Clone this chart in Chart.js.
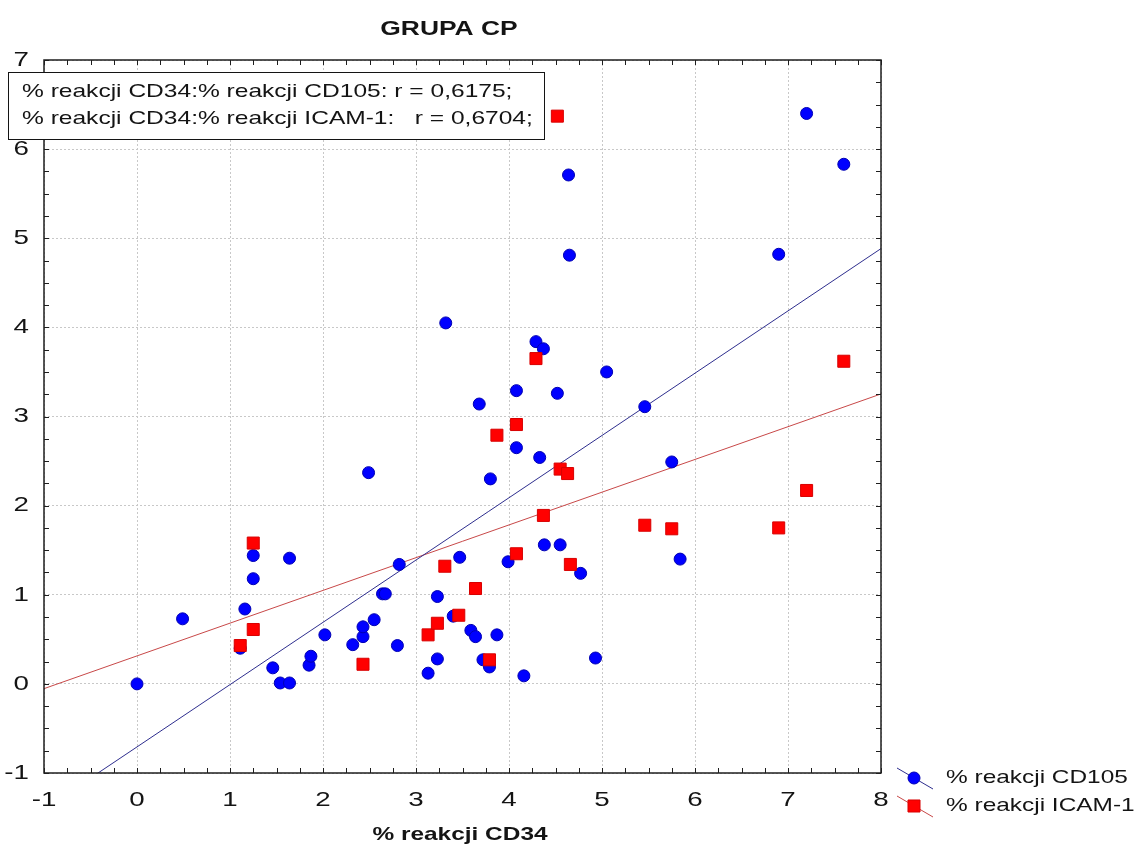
<!DOCTYPE html>
<html>
<head>
<meta charset="utf-8">
<title>GRUPA CP</title>
<script src="https://cdn.jsdelivr.net/npm/chart.js@4.4.1/dist/chart.umd.min.js"></script>
<style>
  html, body { margin: 0; padding: 0; background: #fff; }
  #chart { display: block; }
</style>
</head>
<body>
<canvas id="chart" width="1135" height="850"></canvas>
<script>
// texts
const chartTitle = 'GRUPA CP';
const xAxisTitle = '% reakcji CD34';
const seriesNames = ['% reakcji CD105', '% reakcji ICAM-1'];
const corrLines = [
    '% reakcji CD34:% reakcji CD105: r = 0,6175;',
    '% reakcji CD34:% reakcji ICAM-1:   r = 0,6704;'
];

const xTickLabels = ['-1', '0', '1', '2', '3', '4', '5', '6', '7', '8'];
const yTickLabels = ['-1', '0', '1', '2', '3', '4', '5', '6', '7'];

// CD34 vs CD105 (blue circles)
const cd34ForCd105 = [0, 0.49, 1.11, 1.16, 1.25, 1.25, 1.46, 1.54, 1.64, 1.64, 1.85, 1.87, 2.02, 2.32,
    2.43, 2.43, 2.49, 2.55, 2.64, 2.67, 2.80, 2.82, 3.13, 3.23, 3.23, 3.32, 3.40, 3.47, 3.59, 3.64,
    3.68, 3.72, 3.79, 3.80, 3.87, 3.99, 4.08, 4.08, 4.16, 4.29, 4.33, 4.37, 4.38, 4.52, 4.55, 4.64,
    4.65, 4.77, 4.93, 5.05, 5.46, 5.75, 5.84, 6.90, 7.20, 7.60];
const cd105 = [0.00, 0.73, 0.40, 0.84, 1.44, 1.18, 0.18, 0.01, 0.01, 1.41, 0.21, 0.31, 0.55, 0.44,
    0.53, 0.64, 2.37, 0.72, 1.01, 1.01, 0.43, 1.34, 0.12, 0.28, 0.98, 4.05, 0.76, 1.42, 0.60, 0.53,
    3.14, 0.27, 0.19, 2.30, 0.55, 1.37, 3.29, 2.65, 0.09, 3.84, 2.54, 3.76, 1.56, 3.26, 1.56, 5.71,
    4.81, 1.24, 0.29, 3.50, 3.11, 2.49, 1.40, 4.82, 6.40, 5.83];

// CD34 vs ICAM-1 (red squares)
const cd34ForIcam = [1.11, 1.25, 1.25, 2.43, 3.13, 3.23, 3.31, 3.46, 3.64, 3.79, 3.87, 4.08, 4.08,
    4.29, 4.37, 4.52, 4.55, 4.63, 4.66, 5.46, 5.75, 6.90, 7.20, 7.60];
const icam1 = [0.43, 1.58, 0.61, 0.22, 0.55, 0.68, 1.32, 0.77, 1.07, 0.27, 2.79, 2.91, 1.46,
    3.65, 1.89, 6.37, 2.41, 2.36, 1.34, 1.78, 1.74, 1.75, 2.17, 3.62];

const FONT = '"Liberation Sans", Arial, sans-serif';
const SX = 1.32; // the original lettering is drawn wide

function toPoints(xs, ys) {
    return xs.map((x, i) => ({ x: x, y: ys[i] }));
}

// least squares line over the whole x range
function fitLine(xs, ys) {
    const n = xs.length;
    const mx = xs.reduce((s, v) => s + v, 0) / n;
    const my = ys.reduce((s, v) => s + v, 0) / n;
    let sxy = 0, sxx = 0;
    for (let i = 0; i < n; i++) {
        sxy += (xs[i] - mx) * (ys[i] - my);
        sxx += (xs[i] - mx) * (xs[i] - mx);
    }
    const b = sxy / sxx;
    const a = my - b * mx;
    const x0 = Number(xTickLabels[0]);
    const x1 = Number(xTickLabels[xTickLabels.length - 1]);
    return [{ x: x0, y: a + b * x0 }, { x: x1, y: a + b * x1 }];
}

function wideText(ctx, text, x, y, size, bold, align) {
    ctx.save();
    ctx.font = (bold ? 'bold ' : '') + size + 'px ' + FONT;
    ctx.textBaseline = 'middle';
    ctx.textAlign = 'left';
    ctx.fillStyle = '#141414';
    const w = ctx.measureText(text).width * SX;
    let left = x;
    if (align === 'center') left = x - w / 2;
    if (align === 'right') left = x - w;
    ctx.translate(left, y);
    ctx.scale(SX, 1);
    ctx.fillText(text, 0, 0);
    ctx.restore();
}

function seg(ctx, x1, y1, x2, y2) {
    ctx.beginPath();
    ctx.moveTo(x1, y1);
    ctx.lineTo(x2, y2);
    ctx.stroke();
}

const decorPlugin = {
    id: 'decor',
    beforeDraw(chart) {
        const ctx = chart.ctx;
        ctx.save();
        ctx.fillStyle = '#fff';
        ctx.fillRect(0, 0, chart.width, chart.height);
        ctx.restore();
    },
    afterDraw(chart) {
        const ctx = chart.ctx;
        const a = chart.chartArea;
        const xs = chart.scales.x;
        const ys = chart.scales.y;

        // frame + inward ticks on all four sides
        ctx.save();
        ctx.strokeStyle = '#1e1e1e';
        ctx.lineWidth = 1.5;
        ctx.strokeRect(a.left, a.top, a.right - a.left, a.bottom - a.top);
        ctx.lineWidth = 1;
        for (let v = xs.min; v <= xs.max + 1e-9; v += 0.25) {
            const px = Math.round(xs.getPixelForValue(v)) + 0.5;
            seg(ctx, px, a.bottom, px, a.bottom - 5);
            seg(ctx, px, a.top, px, a.top + 5);
        }
        for (let v = ys.min; v <= ys.max + 1e-9; v += 0.25) {
            const py = Math.round(ys.getPixelForValue(v)) + 0.5;
            seg(ctx, a.left, py, a.left + 5, py);
            seg(ctx, a.right, py, a.right - 5, py);
        }
        ctx.restore();

        // tick labels
        xTickLabels.forEach(t => wideText(ctx, t, xs.getPixelForValue(Number(t)), a.bottom + 27, 21, false, 'center'));
        yTickLabels.forEach(t => wideText(ctx, t, a.left - 15, ys.getPixelForValue(Number(t)), 21, false, 'right'));

        // titles
        wideText(ctx, chartTitle, 449, 29, 20, true, 'center');
        wideText(ctx, xAxisTitle, 460, 835, 18.5, true, 'center');

        // legend: short slanted line with the marker in the middle
        const legendRows = [
            { ds: chart.data.datasets[1], line: chart.data.datasets[2], y: 778, text: seriesNames[0] },
            { ds: chart.data.datasets[0], line: chart.data.datasets[3], y: 806, text: seriesNames[1] }
        ];
        legendRows.forEach(r => {
            ctx.save();
            ctx.strokeStyle = r.line.borderColor;
            ctx.lineWidth = 1;
            seg(ctx, 897, r.y - 10, 933, r.y + 11);
            ctx.fillStyle = r.ds.backgroundColor;
            ctx.strokeStyle = r.ds.borderColor;
            Chart.helpers.drawPoint(ctx, {
                pointStyle: r.ds.pointStyle,
                radius: r.ds.pointRadius,
                rotation: 0,
                borderWidth: 1
            }, 914, r.y);
            ctx.restore();
            wideText(ctx, r.text, 946, r.y, 18.5, false, 'left');
        });

        // correlation box
        ctx.save();
        ctx.fillStyle = '#fff';
        ctx.fillRect(8.5, 72.5, 536, 67);
        ctx.strokeStyle = '#141414';
        ctx.lineWidth = 1;
        ctx.strokeRect(8.5, 72.5, 536, 67);
        ctx.restore();
        wideText(ctx, corrLines[0], 22, 92, 18.6, false, 'left');
        wideText(ctx, corrLines[1], 22, 119, 18.6, false, 'left');
    }
};

const gridStyle = { color: '#c8c8c8', lineWidth: 1, drawTicks: false };

new Chart(document.getElementById('chart'), {
    type: 'scatter',
    data: {
        datasets: [
            {
                label: seriesNames[1],
                data: toPoints(cd34ForIcam, icam1),
                pointStyle: 'rect',
                pointRadius: 8.5,
                backgroundColor: '#ff0000',
                borderColor: '#d80000',
                borderWidth: 1,
                order: 0
            },
            {
                label: seriesNames[0],
                data: toPoints(cd34ForCd105, cd105),
                pointStyle: 'circle',
                pointRadius: 6,
                backgroundColor: '#0000ff',
                borderColor: '#0000b4',
                borderWidth: 1,
                order: 1
            },
            {
                type: 'line',
                data: fitLine(cd34ForCd105, cd105),
                borderColor: '#2e2e8e',
                borderWidth: 1,
                pointRadius: 0,
                fill: false,
                order: 2
            },
            {
                type: 'line',
                data: fitLine(cd34ForIcam, icam1),
                borderColor: '#c84848',
                borderWidth: 1,
                pointRadius: 0,
                fill: false,
                order: 3
            }
        ]
    },
    options: {
        responsive: false,
        animation: false,
        layout: { padding: { top: 60, right: 254, bottom: 0, left: 0 } },
        plugins: {
            legend: { display: false },
            tooltip: { enabled: false },
            title: { display: false }
        },
        scales: {
            x: {
                type: 'linear',
                min: Number(xTickLabels[0]),
                max: Number(xTickLabels[xTickLabels.length - 1]),
                ticks: { stepSize: 1, display: false },
                grid: gridStyle,
                border: { display: false, dash: [2, 2] },
                afterFit(s) { s.height = 77; }
            },
            y: {
                type: 'linear',
                min: Number(yTickLabels[0]),
                max: Number(yTickLabels[yTickLabels.length - 1]),
                ticks: { stepSize: 1, display: false },
                grid: gridStyle,
                border: { display: false, dash: [2, 2] },
                afterFit(s) { s.width = 44; }
            }
        }
    },
    plugins: [decorPlugin]
});
</script>
</body>
</html>
